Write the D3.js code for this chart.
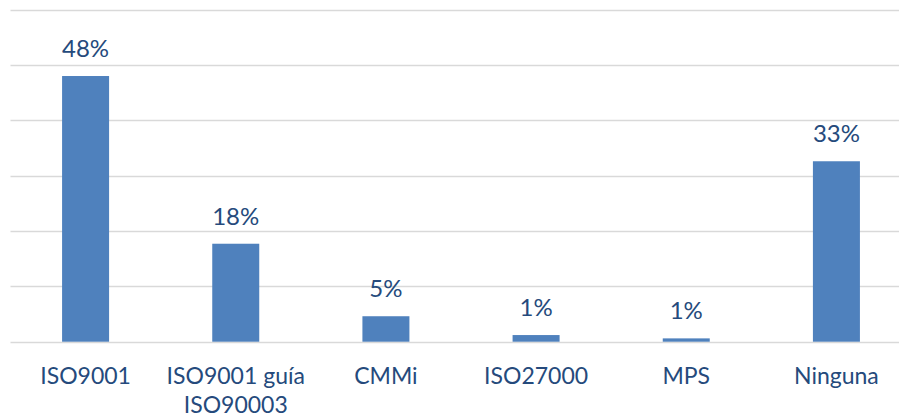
<!DOCTYPE html>
<html>
<head>
<meta charset="utf-8">
<script src="https://cdn.jsdelivr.net/npm/d3@7"></script>
<style>
  body { margin: 0; background: #fff; }
  text { font-family: Lato, "Open Sans", sans-serif; }
</style>
</head>
<body>
<div id="chart"></div>
<script>
// data (percent)
var categories = ["ISO9001", "ISO9001 guía ISO90003", "CMMi", "ISO27000", "MPS", "Ninguna"];
var values = [48, 17.7, 4.6, 1.2, 0.6, 32.6];
var gridTicks = [0, 10, 20, 30, 40, 50, 60];

var width = 899, height = 420;

var svg = d3.select("#chart")
    .append("svg")
    .attr("width", width)
    .attr("height", height);

// band scale runs past the right edge, like the cropped original
var x = d3.scaleBand()
    .domain(categories)
    .range([10.5, 911.5])
    .paddingInner(0.687)
    .paddingOuter(0.3435);

var y = d3.scaleLinear()
    .domain([0, 60])
    .range([341.7, 9.6]);

// gridlines
svg.append("g")
    .selectAll("line")
    .data(gridTicks)
    .enter()
    .append("line")
    .attr("x1", 10.5)
    .attr("x2", width)
    .attr("y1", d => Math.round(y(d)) + 0.5)
    .attr("y2", d => Math.round(y(d)) + 0.5)
    .attr("stroke", "#d9d9d9")
    .attr("stroke-width", 1.5);

// bars
svg.append("g")
    .selectAll("rect")
    .data(values)
    .enter()
    .append("rect")
    .attr("x", (d, i) => x(categories[i]))
    .attr("width", x.bandwidth())
    .attr("y", d => y(d))
    .attr("height", d => y(0) - y(d))
    .attr("fill", "#4f81bd");

// value labels
svg.append("g")
    .selectAll("text")
    .data(values)
    .enter()
    .append("text")
    .attr("x", (d, i) => x(categories[i]) + x.bandwidth() / 2)
    .attr("y", d => y(d) - 19)
    .attr("text-anchor", "middle")
    .style("font-size", "24px")
    .style("fill", "#254a7c")
    .text(d => Math.round(d) + "%");

// category labels, wrapped like the original
var wrap = {"ISO9001 guía ISO90003": ["ISO9001 guía", "ISO90003"]};

var cat = svg.append("g")
    .selectAll("text")
    .data(categories)
    .enter()
    .append("text")
    .attr("x", d => x(d) + x.bandwidth() / 2)
    .attr("y", 384)
    .attr("text-anchor", "middle")
    .style("font-size", "23px")
    .style("fill", "#254a7c");

cat.selectAll("tspan")
    .data(d => wrap[d] || [d])
    .enter()
    .append("tspan")
    .attr("x", function() { return d3.select(this.parentNode).attr("x") })
    .attr("dy", (d, i) => i ? 29 : 0)
    .text(d => d);
</script>
</body>
</html>
